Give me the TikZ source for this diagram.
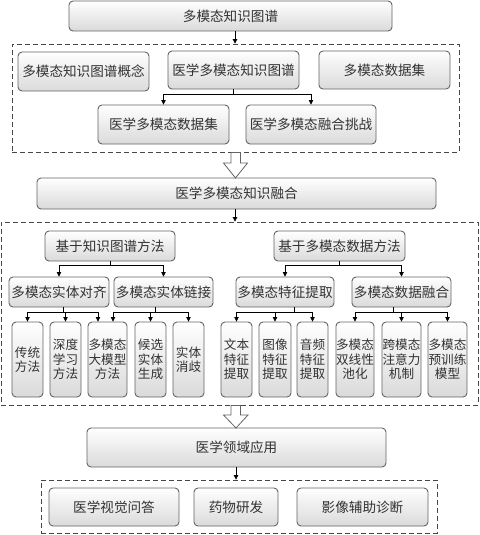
\documentclass[tikz,border=0pt]{standalone}
\usepackage{fontspec}
\setmainfont{Noto Sans CJK SC}
\usetikzlibrary{arrows.meta}
\definecolor{bordc}{RGB}{100,100,100}
\definecolor{txtc}{RGB}{50,50,50}
\definecolor{shadec}{RGB}{218,218,218}
\definecolor{dashc}{RGB}{70,70,70}
\begin{document}
\begin{tikzpicture}[x=1pt,y=-1pt,
  box/.style={draw=bordc,line width=0.9pt,rounded corners=4pt,top color=white,bottom color=shadec,
    text=txtc,font=\fontsize{13.6}{15}\selectfont,inner sep=0pt,align=center},
  leaf/.style={box,font=\fontsize{12.6}{14.5}\selectfont},
  dbox/.style={draw=dashc,line width=0.8pt,dash pattern=on 5pt off 3pt,inner sep=0pt},
  arr/.style={draw=black,line width=0.7pt,-{Triangle[length=4.5pt,width=4.5pt]}},
  hollow/.style={draw=bordc,line width=0.8pt,fill=white},
]
\useasboundingbox (0,0) rectangle (479,535);
% dashed frames
\node[dbox,minimum width=447pt,minimum height=108pt] (D1) at (235.5,98) {};
\node[dbox,minimum width=477pt,minimum height=183pt] (D2) at (239.5,313.5) {};
\node[dbox,minimum width=396pt,minimum height=53pt] (D3) at (239,506.5) {};
% top
\node[box,minimum width=323pt,minimum height=30pt] (top) at (230.5,16) {多模态知识图谱};
\node[box,minimum width=131pt,minimum height=39pt] (c1) at (83.5,71.5) {多模态知识图谱概念};
\node[box,minimum width=131pt,minimum height=38pt] (c2) at (233.5,70) {医学多模态知识图谱};
\node[box,minimum width=131pt,minimum height=38pt] (c3) at (384.5,70) {多模态数据集};
\node[box,minimum width=131pt,minimum height=39pt] (c4) at (163.5,124.5) {医学多模态数据集};
\node[box,minimum width=130pt,minimum height=39pt] (c5) at (311,124.5) {医学多模态融合挑战};
% fusion
\node[box,minimum width=399pt,minimum height=31pt] (fuse) at (236.5,193.5) {医学多模态知识融合};
\node[box,minimum width=130pt,minimum height=30pt] (m1) at (110,246) {基于知识图谱方法};
\node[box,minimum width=131pt,minimum height=30pt] (m2) at (339.5,246) {基于多模态数据方法};
\node[box,minimum width=100pt,minimum height=30pt] (s1) at (59,292) {多模态实体对齐};
\node[box,minimum width=99pt,minimum height=30pt] (s2) at (163.5,292) {多模态实体链接};
\node[box,minimum width=98pt,minimum height=30pt] (s3) at (285,292) {多模态特征提取};
\node[box,minimum width=99pt,minimum height=30pt] (s4) at (401.5,292) {多模态数据融合};
% leaves
\node[leaf,minimum width=31pt,minimum height=75pt] (l1) at (27.5,359.5) {传统\\方法};
\node[leaf,minimum width=31pt,minimum height=75pt] (l2) at (65.5,359.5) {深度\\学习\\方法};
\node[leaf,minimum width=39pt,minimum height=75pt] (l3) at (107.5,359.5) {多模态\\大模型\\方法};
\node[leaf,minimum width=31pt,minimum height=75pt] (l4) at (150.5,359.5) {候选\\实体\\生成};
\node[leaf,minimum width=31pt,minimum height=75pt] (l5) at (188.5,359.5) {实体\\消歧};
\node[leaf,minimum width=31pt,minimum height=75pt] (r1) at (236.5,359.5) {文本\\特征\\提取};
\node[leaf,minimum width=32pt,minimum height=75pt] (r2) at (275,359.5) {图像\\特征\\提取};
\node[leaf,minimum width=31pt,minimum height=75pt] (r3) at (312.5,359.5) {音频\\特征\\提取};
\node[leaf,minimum width=38pt,minimum height=75pt] (r4) at (355,359.5) {多模态\\双线性\\池化};
\node[leaf,minimum width=39pt,minimum height=75pt] (r5) at (401.5,359.5) {跨模态\\注意力\\机制};
\node[leaf,minimum width=39pt,minimum height=75pt] (r6) at (447.5,359.5) {多模态\\预训练\\模型};
% application
\node[box,minimum width=299pt,minimum height=39pt] (app) at (236.5,447.5) {医学领域应用};
\node[box,minimum width=130pt,minimum height=38pt] (a1) at (114,507) {医学视觉问答};
\node[box,minimum width=84pt,minimum height=38pt] (a2) at (236,507) {药物研发};
\node[box,minimum width=131pt,minimum height=38pt] (a3) at (362.5,507) {影像辅助诊断};
% junction levels
\coordinate (j1) at (0,94);
\coordinate (j2) at (0,265);
\coordinate (j3) at (0,312);
\coordinate (t1) at ([xshift=4.5pt]top.south);
\coordinate (t2) at ([xshift=-1.5pt]fuse.south);
\coordinate (t3) at ([xshift=-0.5pt]app.south);
\coordinate (q1) at ([xshift=4pt]s1.south);
\coordinate (q2) at ([xshift=-8.5pt]s2.south);
\coordinate (q3) at ([xshift=9pt]s3.south);
\coordinate (q4) at ([xshift=-8.5pt]s4.south);
% connectors
\draw[arr] (t1) -- (t1 |- D1.north);
\draw[arr] (t2) -- (t2 |- D2.north);
\draw[arr] (t3) -- (t3 |- D3.north);
\draw[arr] (c2.south) -- (c2.south |- j1) -| (c4.north);
\draw[arr] (c2.south) -- (c2.south |- j1) -| (c5.north);
\draw[arr] (m1.south) -- (m1.south |- j2) -| (s1.north);
\draw[arr] (m1.south) -- (m1.south |- j2) -| (s2.north);
\draw[arr] (m2.south) -- (m2.south |- j2) -| (s3.north);
\draw[arr] (m2.south) -- (m2.south |- j2) -| (s4.north);
\draw[arr] (q1) -- (q1 |- j3) -| (l1.north);
\draw[arr] (q1) -- (q1 |- j3) -| (l2.north);
\draw[arr] (q1) -- (q1 |- j3) -| ([xshift=-9.5pt]l3.north);
\draw[arr] (q2) -- (q2 |- j3) -| ([xshift=5.5pt]l3.north);
\draw[arr] (q2) -- (q2 |- j3) -| (l4.north);
\draw[arr] (q2) -- (q2 |- j3) -| (l5.north);
\draw[arr] (q3) -- (q3 |- j3) -| (r1.north);
\draw[arr] (q3) -- (q3 |- j3) -| (r2.north);
\draw[arr] (q3) -- (q3 |- j3) -| (r3.north);
\draw[arr] (q4) -- (q4 |- j3) -| (r4.north);
\draw[arr] (q4) -- (q4 |- j3) -| (r5.north);
\draw[arr] (q4) -- (q4 |- j3) -| (r6.north);
% hollow arrows
\draw[hollow] (231,152.5) -- (240.5,152.5) -- (240.5,163) -- (247.5,163) -- (235.5,178) -- (223.5,163) -- (231,163) -- cycle;
\draw[hollow] (231,405.5) -- (240.5,405.5) -- (240.5,415) -- (248,415) -- (236,428) -- (223.5,415) -- (231,415) -- cycle;
\end{tikzpicture}
\end{document}
